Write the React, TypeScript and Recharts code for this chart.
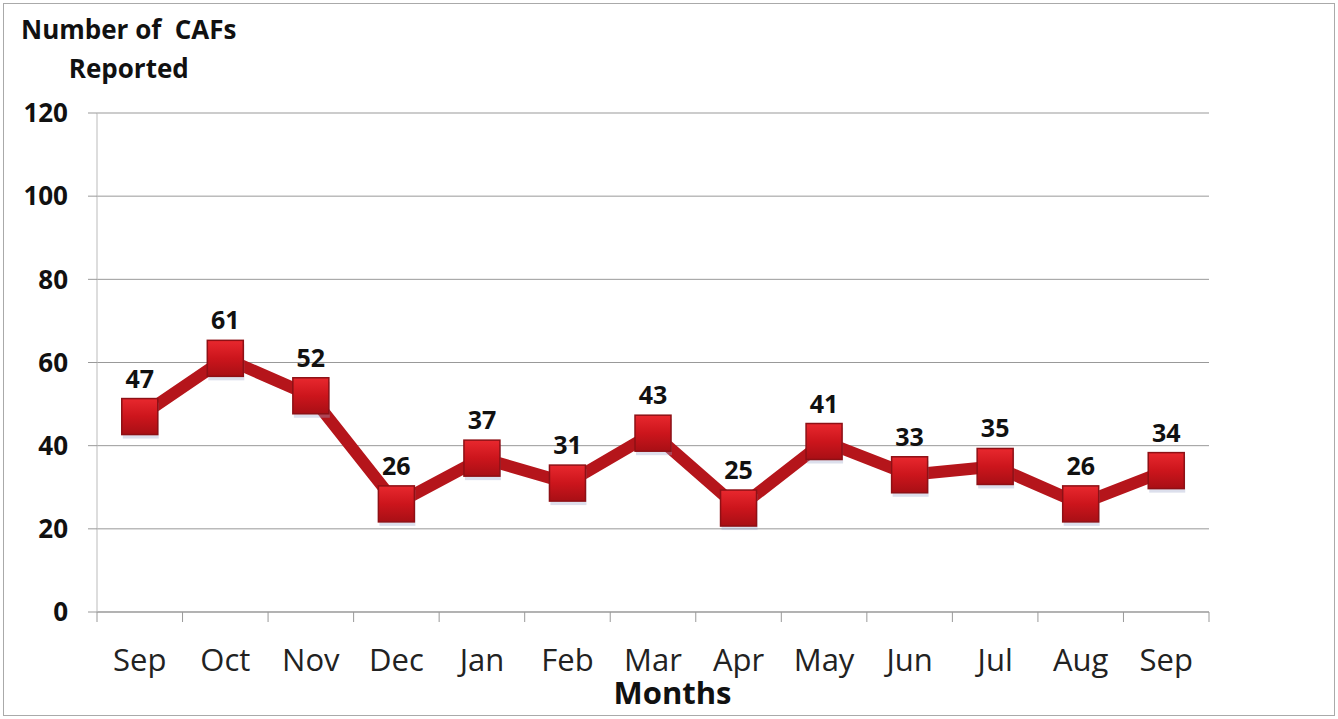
import React from "react";
import { LineChart, Line, XAxis, YAxis, CartesianGrid, LabelList } from "recharts";

const months = ["Sep", "Oct", "Nov", "Dec", "Jan", "Feb", "Mar", "Apr", "May", "Jun", "Jul", "Aug", "Sep"];
const cafs = [47, 61, 52, 26, 37, 31, 43, 25, 41, 33, 35, 26, 34];
const yTicks = [0, 20, 40, 60, 80, 100, 120];

const data = months.map((m, i) => ({ key: `${m}-${i}`, month: m, value: cafs[i] }));

const W = 1338;
const H = 719;
const Y_W = 60;
const X_H = 30;
const M = { top: 113, right: 129, bottom: 107 - X_H, left: 97 - Y_W };
const FONT = "'Open Sans', Lato, sans-serif";
const BAND = (W - M.left - Y_W - M.right) / months.length;

const XTick = (props: any) => {
  const { x, y, index } = props;
  const lx = x - BAND / 2;
  const rx = x + BAND / 2;
  return (
    <g>
      <line x1={lx} y1={y - 8} x2={lx} y2={y + 2} stroke="#999" strokeWidth={1} />
      {index === months.length - 1 && (
        <line x1={rx} y1={y - 8} x2={rx} y2={y + 2} stroke="#999" strokeWidth={1} />
      )}
      <text x={x} y={y + 51} textAnchor="middle" fontFamily={FONT} fontSize={31} fill="#222">
        {months[index]}
      </text>
    </g>
  );
};

const SquareDot = (props: any) => {
  const { cx, cy, index } = props;
  if (cx == null || cy == null) return null;
  const s = 36;
  return (
    <g key={`dot-${index}`}>
      <rect x={cx - s / 2 + 1} y={cy - s / 2 + 4} width={s} height={s} fill="#9aa4c8" opacity={0.35} />
      <rect x={cx - s / 2} y={cy - s / 2} width={s} height={s} fill="url(#redGrad)" stroke="#8e1015" strokeWidth={1.5} />
    </g>
  );
};

export default function App() {
  return (
    <div style={{ position: "absolute", left: 0, top: 0, width: W, height: H, background: "#fff" }}>
      <div
        style={{
          position: "absolute",
          left: 3,
          top: 3,
          width: W - 8,
          height: H - 8,
          border: "1px solid #aaa",
        }}
      />
      <div
        style={{
          position: "absolute",
          left: 21,
          top: 10,
          fontFamily: FONT,
          fontWeight: 700,
          fontSize: 26,
          color: "#111",
          textAlign: "center",
          lineHeight: "39px",
          whiteSpace: "pre",
        }}
      >
        {"Number of  CAFs\nReported"}
      </div>
      <div
        style={{
          position: "absolute",
          left: 0,
          width: 1345,
          top: 677,
          textAlign: "center",
          fontFamily: FONT,
          fontWeight: 700,
          fontSize: 31,
          lineHeight: "31px",
          color: "#111",
        }}
      >
        Months
      </div>
      <LineChart width={W} height={H} data={data} margin={M}>
        <defs>
          <linearGradient id="redGrad" x1="0" y1="0" x2="0" y2="1">
            <stop offset="0%" stopColor="#e8282e" />
            <stop offset="50%" stopColor="#cc151c" />
            <stop offset="100%" stopColor="#a80f15" />
          </linearGradient>
        </defs>
        <CartesianGrid vertical={false} stroke="#999" strokeWidth={1} />
        <XAxis
          dataKey="key"
          type="category"
          interval={0}
          height={X_H}
          padding={{ left: BAND / 2, right: BAND / 2 }}
          tickLine={false}
          axisLine={{ stroke: "#999" }}
          tick={<XTick />}
        />
        <YAxis
          domain={[0, 120]}
          ticks={yTicks}
          interval={0}
          width={Y_W}
          tickSize={9}
          tickMargin={20}
          tickLine={{ stroke: "#999" }}
          axisLine={{ stroke: "#bbb" }}
          tick={{ fontFamily: FONT, fontWeight: 700, fontSize: 26, fill: "#111" }}
        />
        <Line
          dataKey="value"
          type="linear"
          stroke="#b5151b"
          strokeWidth={12}
          dot={<SquareDot />}
          activeDot={false}
          isAnimationActive={false}
        >
          <LabelList
            dataKey="value"
            position="top"
            offset={29}
            style={{ fontFamily: FONT, fontWeight: 700, fontSize: 25, fill: "#111" }}
          />
        </Line>
      </LineChart>
    </div>
  );
}
